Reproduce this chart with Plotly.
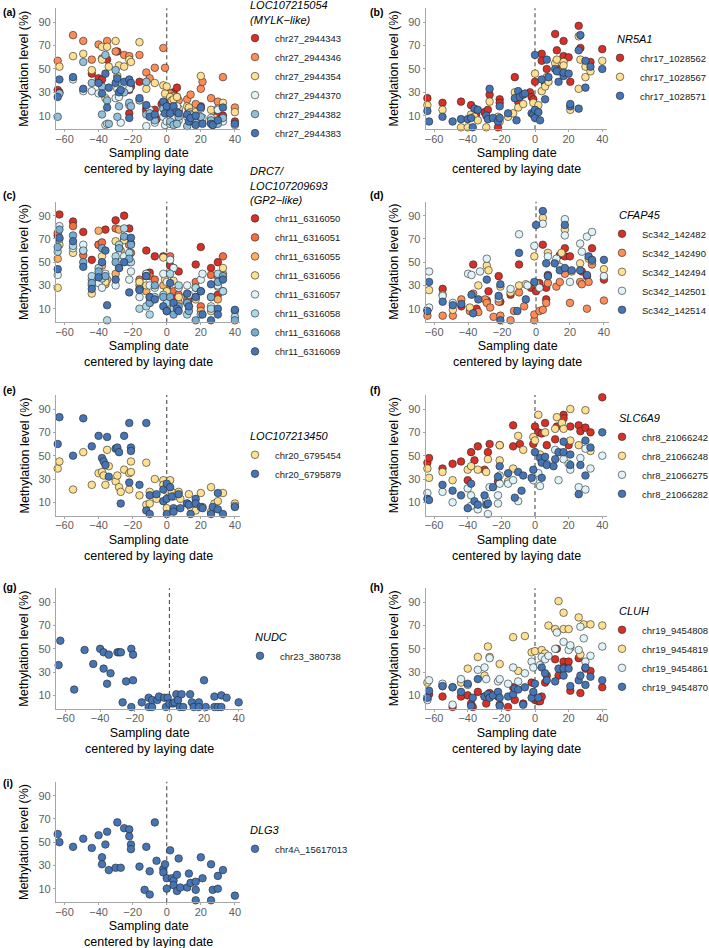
import plotly.graph_objects as go

# ---------------- data ----------------
# (a) LOC107215054 (MYLK-like)
A_NAMES = ["chr27_2944343", "chr27_2944346", "chr27_2944354", "chr27_2944370", "chr27_2944382", "chr27_2944383"]
A1_X = [-64, -63, -44, -40, -38, -35, -29, -28, -22, -22, -21, -16, -12, -12, -10, -7, -6, -3, 0, 2, 4, 6, 6, 7, 12, 13, 14, 17, 20, 26, 28, 30, 33, 40]
A1_Y = [32, 30, 46, 42, 41, 58, 65, 27, 32, 12, 35, 39, 16, 14, 10, 15, 7, 20, 18, 22, 30, 34, 26, 14, 10, 15, 5, 8, 18, 5, 3, 12, 10, 5]
A2_X = [-64, -55, -49, -44, -40, -38, -35, -30, -25, -22, -16, -12, -10, -7, -2, -1, 2, 4, 7, 12, 14, 17, 20, 21, 26, 30, 33, 40]
A2_Y = [57, 79, 74, 58, 71, 59, 74, 65, 62, 61, 62, 47, 42, 51, 68, 51, 29, 27, 23, 24, 28, 20, 33, 39, 25, 22, 43, 17]
A3_X = [-63, -55, -49, -44, -38, -38, -36, -35, -34, -30, -29, -28, -25, -22, -21, -16, -12, -7, -2, -1, 0, 2, 3, 4, 6, 7, 12, 13, 14, 17, 20, 26, 28, 30, 33, 40]
A3_Y = [52, 61, 63, 49, 69, 58, 25, 69, 52, 74, 44, 53, 52, 58, 56, 73, 33, 38, 36, 29, 35, 26, 23, 24, 26, 16, 18, 17, 13, 13, 44, 15, 8, 16, 21, 13]
A4_X = [-55, -49, -44, -40, -36, -35, -30, -29, -28, -27, -25, -22, -22, -12, -10, -7, -2, -1, 0, 2, 4, 6, 7, 12, 13, 14, 20, 21, 26, 30, 33, 40]
A4_Y = [41, 31, 31, 29, 2, 3, 25, 33, 26, 4, 35, 33, 19, 1, 15, 4, 9, 2, 5, 3, 9, 18, 6, 9, 12, 6, 16, 8, 8, 15, 5, 2]
A5_X = [-64, -63, -49, -44, -38, -38, -36, -35, -34, -30, -29, -28, -25, -22, -21, -16, -12, -12, -10, -7, -2, 0, 2, 4, 6, 7, 12, 14, 17, 20, 26, 27, 30, 33]
A5_Y = [9, 29, 56, 38, 35, 11, 62, 23, 3, 49, 9, 18, 30, 21, 18, 23, 39, 11, 12, 6, 16, 13, 5, 2, 3, 9, 1, 11, 4, 9, 6, 2, 3, 8]
A6_X = [-64, -63, -55, -49, -40, -38, -36, -35, -34, -30, -29, -28, -27, -25, -22, -22, -21, -16, -12, -10, -7, -2, -1, 0, 2, 4, 6, 7, 12, 13, 14, 17, 17, 20, 21, 26, 27, 30, 33, 40]
A6_Y = [26, 41, 43, 33, 38, 29, 46, 17, 34, 38, 42, 30, 32, 39, 41, 8, 38, 25, 19, 9, 11, 22, 12, 18, 12, 18, 13, 12, 11, 5, 8, 10, 2, 17, 3, 3, 2, 6, 17, 3]

# (b) NR5A1
B_NAMES = ["chr17_1028562", "chr17_1028567", "chr17_1028571"]
B1_X = [-64, -55, -44, -38, -35, -30, -28, -27, -22, -21, -21, -12, -10, -3, -2, -1, 0, 4, 4, 6, 7, 12, 13, 14, 17, 17, 20, 21, 26, 27, 33, 40]
B1_Y = [25, 21, 22, 19, 11, 13, 15, 28, 0, 24, 21, 43, 22, 30, 26, 24, 39, 63, 57, 37, 50, 80, 66, 50, 74, 61, 60, 39, 87, 68, 56, 67]
B2_X = [-64, -55, -44, -40, -38, -36, -34, -29, -27, -22, -21, -16, -13, -12, -10, -7, -1, 0, 2, 4, 6, 7, 8, 12, 13, 14, 17, 17, 21, 26, 26, 27, 30, 30, 33, 40]
B2_Y = [19, 15, 0, 0, 11, 9, 6, 0, 22, 9, 5, 9, 12, 30, 17, 20, 21, 46, 19, 31, 35, 43, 39, 55, 58, 48, 56, 53, 15, 78, 33, 58, 43, 52, 48, 57]
B3_X = [-64, -63, -55, -49, -44, -40, -38, -37, -36, -34, -29, -28, -27, -25, -22, -21, -21, -16, -12, -11, -10, -9, -7, -6, -2, -1, 0, 0, 0, 2, 3, 4, 6, 7, 8, 12, 13, 14, 17, 17, 20, 21, 21, 26, 26, 27, 30, 30, 33, 40]
B3_Y = [14, 5, 9, 5, 7, 7, 8, 0, 16, 15, 10, 7, 33, 8, 5, 8, 18, 12, 25, 6, 31, 26, 28, 29, 12, 11, 62, 15, 8, 13, 6, 41, 24, 58, 43, 50, 48, 39, 44, 47, 46, 18, 20, 66, 16, 79, 57, 34, 52, 50]

# (c) DRC7/LOC107209693 (GP2-like)
C_NAMES = ["chr11_6316050", "chr11_6316051", "chr11_6316055", "chr11_6316056", "chr11_6316057", "chr11_6316058", "chr11_6316068", "chr11_6316069"]
C1_X = [-63, -64, -55, -49, -44, -40, -36, -30, -25, -22, -21, -12, -7, -2, 0, 2, 4, 7, 13, 17, 20, 26, 30, 30, -10]
C1_Y = [91, 73, 85, 76, 52, 65, 78, 86, 90, 79, 66, 60, 55, 55, 28, 47, 20, 42, 18, 48, 63, 45, 50, 22, 41]
C2_X = [-64, -55, -49, -40, -38, -30, -28, -25, -22, -21, -16, -12, -10, -7, 0, 2, 4, 7, 12, 17, 20, 26, 30, 33]
C2_Y = [75, 81, 56, 65, 67, 79, 62, 70, 65, 58, 35, 40, 38, 35, 30, 55, 25, 22, 18, 33, 12, 39, 38, 55]
C3_X = [-64, -49, -44, -40, -38, -36, -35, -30, -28, -27, -22, -16, -12, -10, -2, 0, 2, 4, 7, 12, 17, 20, 26, 30, 33]
C3_Y = [53, 60, 35, 77, 47, 31, 35, 40, 78, 60, 65, 30, 25, 15, 30, 20, 12, 45, 15, 22, 20, 8, 20, 18, 40]
C4_X = [-64, -63, -55, -44, -38, -36, -30, -28, -25, -22, -16, -12, -10, -2, -1, 0, 4, 7, 12, 13, 17, 26, 30, 33]
C4_Y = [28, 65, 58, 23, 55, 33, 68, 45, 69, 50, 33, 30, 20, 54, 35, 25, 34, 20, 15, 12, 18, 8, 29, 45]
C5_X = [-64, -63, -55, -49, -44, -40, -38, -36, -30, -28, -25, -22, -21, -16, -12, -10, -7, -2, 0, 2, 4, 7, 12, 13, 17, 20, 21, 26, 30, 33, 40]
C5_Y = [39, 81, 62, 65, 30, 32, 28, 40, 30, 56, 55, 35, 42, 20, 40, 30, 28, 40, 33, 52, 45, 28, 30, 22, 28, 35, 40, 12, 30, 25, 8]
C6_X = [-64, -63, -55, -49, -44, -40, -38, -35, -30, -28, -25, -22, -21, -16, -12, -10, -7, -2, 0, 2, 4, 7, 12, 17, 20, 26, 30, 33, 40]
C6_Y = [59, 70, 64, 60, 38, 45, 36, 0, 55, 65, 79, 58, 50, 10, 12, 5, 20, 22, 15, 40, 10, 30, 5, 28, 5, 10, 40, 25, 3]
C7_X = [-64, -63, -55, -49, -44, -40, -38, -36, -30, -28, -25, -22, -21, -16, -12, -10, -7, -2, 0, 2, 4, 7, 12, 13, 17, 20, 26, 30, 33, 40]
C7_Y = [63, 78, 73, 50, 32, 42, 62, 38, 50, 62, 72, 53, 65, 27, 38, 15, 30, 20, 8, 20, 5, 12, 15, 8, 0, 25, 20, 33, 38, 0]
C8_X = [-64, -63, -55, -49, -44, -40, -38, -36, -35, -30, -28, -25, -22, -21, -16, -12, -10, -7, -2, 0, 2, 4, 6, 7, 12, 13, 17, 20, 21, 26, 26, 30, 30, 33, 40]
C8_Y = [44, 71, 68, 46, 27, 37, 50, 60, 13, 35, 45, 50, 24, 71, 26, 38, 20, 18, 12, 8, 32, 15, 10, 8, 23, 12, 20, 25, 5, 31, 0, 10, 5, 35, 9]

# (d) CFAP45
D_NAMES = ["Sc342_142482", "Sc342_142490", "Sc342_142494", "Sc342_142501", "Sc342_142514"]
D1_X = [-64, -55, -44, -37, -35, -29, -28, -22, -21, -15, -10, -3, 0, 2, 4, 6, 6, 7, 14, 17, 17, 20, 27, 30, 33, 40]
D1_Y = [9, 27, 12, 48, 10, 17, 25, 38, 16, 22, 48, 28, 25, 32, 65, 18, 28, 39, 56, 62, 55, 55, 42, 38, 62, 35]
D2_X = [-64, -55, -49, -44, -39, -37, -34, -30, -29, -27, -25, -22, -21, -15, -13, -10, -7, -1, -1, 0, 2, 4, 6, 7, 12, 14, 17, 20, 26, 27, 30, 31, 33, 40]
D2_Y = [4, 4, 4, 18, 8, 23, 7, 18, 15, 11, 3, 16, 4, 0, 8, 24, 12, 0, 5, 31, 8, 9, 15, 32, 29, 33, 40, 15, 33, 31, 10, 33, 48, 17]
D3_X = [-63, -55, -49, -39, -34, -29, -28, -21, -15, -10, -6, -1, 0, 4, 7, 12, 15, 17, 21, 26, 31, 33, 40]
D3_Y = [26, 22, 9, 11, 30, 47, 43, 29, 24, 30, 31, 55, 32, 88, 58, 50, 58, 78, 42, 49, 53, 51, 44]
D4_X = [-63, -63, -55, -49, -40, -38, -33, -29, -22, -15, -10, -5, -1, 2, 4, 7, 12, 14, 17, 17, 20, 26, 27, 30, 33, 40]
D4_Y = [42, 11, 21, 15, 40, 39, 42, 53, 19, 27, 74, 30, 64, 28, 83, 55, 53, 46, 87, 73, 33, 66, 59, 72, 76, 38]
D5_X = [-64, -63, -55, -49, -44, -38, -37, -34, -29, -22, -21, -21, -11, -10, -6, -1, 0, 4, 6, 7, 11, 14, 17, 17, 21, 26, 30, 31, 33, 40]
D5_Y = [8, 33, 16, 13, 14, 22, 6, 18, 35, 21, 0, 31, 8, 58, 18, 33, 82, 94, 49, 38, 49, 43, 82, 45, 43, 43, 39, 55, 52, 52]

# (e) LOC107213450
E_NAMES = ["chr20_6795454", "chr20_6795879"]
E1_X = [-64, -63, -55, -49, -44, -40, -38, -37, -36, -35, -34, -30, -29, -28, -27, -25, -22, -22, -21, -21, -16, -12, -12, -10, -10, -7, -6, -2, -2, 0, 0, 2, 3, 4, 7, 8, 12, 13, 14, 17, 17, 20, 21, 26, 26, 28, 30, 33, 40, 40]
E1_Y = [39, 45, 21, 53, 25, 35, 36, 33, 25, 55, 41, 28, 33, 23, 19, 38, 35, 21, 45, 36, 16, 8, 44, 19, 9, 30, 13, 29, 25, 5, 20, 29, 19, 15, 19, 13, 9, 17, 6, 8, 3, 18, 6, 23, 2, 9, 11, 18, 9, 7]
E2_X = [-64, -63, -55, -49, -44, -40, -38, -37, -36, -35, -34, -30, -29, -28, -27, -25, -22, -21, -21, -22, -16, -12, -12, -10, -10, -6, -2, -2, 0, 0, 0, 2, 3, 4, 4, 7, 8, 12, 13, 14, 17, 17, 20, 21, 26, 27, 30, 30, 33, 40]
E2_Y = [60, 83, 50, 82, 58, 67, 48, 45, 42, 66, 32, 56, 57, 53, 9, 67, 78, 57, 54, 27, 25, 3, 78, 16, 0, 17, 21, 11, 26, 13, 0, 23, 15, 5, 2, 17, 5, 9, 8, 0, 13, 9, 6, 5, 0, 6, 4, 18, 0, 6]

# (f) SLC6A9
F_NAMES = ["chr8_21066242", "chr8_21066248", "chr8_21066275", "chr8_21066282"]
F1_X = [-64, -63, -55, -49, -44, -40, -38, -36, -34, -30, -28, -27, -22, -21, -13, -13, -9, -1, 0, 2, 4, 6, 7, 12, 13, 17, 17, 20, 21, 26, 27, 30, 33, 40]
F1_Y = [44, 48, 39, 43, 45, 29, 53, 46, 58, 38, 53, 60, 28, 59, 76, 58, 60, 60, 75, 70, 69, 78, 59, 64, 75, 85, 82, 59, 75, 76, 71, 74, 70, 100]
F2_X = [-64, -63, -55, -49, -40, -38, -34, -29, -28, -21, -21, -16, -13, -10, -7, -1, 0, 2, 3, 6, 12, 13, 16, 17, 21, 21, 26, 30, 33]
F2_Y = [39, 31, 36, 29, 38, 41, 38, 36, 47, 59, 46, 28, 39, 67, 55, 66, 63, 85, 51, 70, 73, 83, 78, 73, 90, 63, 59, 89, 54]
F3_X = [-64, -55, -49, -40, -38, -38, -34, -29, -28, -27, -22, -22, -21, -21, -16, -13, -10, -1, 2, 3, 7, 12, 14, 17, 20, 21, 26, 27, 30, 30, 33, 40]
F3_Y = [18, 19, 10, 22, 16, 7, 4, 12, 0, 23, 16, 9, 26, 33, 26, 29, 11, 29, 35, 24, 43, 55, 29, 47, 43, 38, 23, 48, 21, 56, 39, 50]
F4_X = [-64, -63, -55, -49, -44, -40, -38, -36, -34, -30, -29, -28, -25, -22, -21, -16, -12, -10, -8, -7, -2, -1, 0, 3, 4, 4, 6, 7, 11, 12, 14, 17, 17, 21, 21, 26, 27, 30, 30, 33, 40]
F4_Y = [13, 12, 25, 20, 16, 5, 26, 11, 8, 16, 8, 9, 23, 32, 41, 35, 14, 36, 20, 33, 31, 38, 53, 48, 44, 31, 49, 42, 41, 47, 53, 62, 53, 51, 42, 17, 42, 33, 63, 57, 70]

# (g) NUDC
G_NAMES = ["chr23_380738"]
G1_X = [-64, -63, -55, -49, -44, -40, -38, -38, -36, -35, -34, -30, -29, -28, -27, -25, -22, -21, -21, -22, -16, -12, -12, -10, -10, -7, -6, -3, -2, -1, 0, 2, 3, 4, 5, 6, 7, 8, 12, 13, 14, 17, 17, 20, 21, 26, 26, 28, 30, 30, 33, 40]
G1_Y = [36, 57, 15, 49, 37, 50, 47, 33, 20, 45, 29, 47, 47, 47, 4, 22, 50, 45, 23, 0, 4, 8, 0, 6, 0, 6, 9, 8, 0, 8, 3, 3, 4, 11, 6, 0, 11, 0, 11, 4, 0, 4, 0, 23, 0, 9, 0, 0, 10, 0, 8, 4]

# (h) CLUH
H_NAMES = ["chr19_9454808", "chr19_9454819", "chr19_9454861", "chr19_9454870"]
H1_X = [-64, -63, -55, -49, -44, -40, -38, -37, -34, -30, -29, -27, -22, -21, -16, -13, -12, -7, -2, -1, 0, 2, 3, 4, 6, 7, 12, 13, 14, 17, 17, 20, 21, 26, 27, 30, 33, 40]
H1_Y = [7, 11, 9, 0, 9, 10, 3, 0, 13, 9, 3, 12, 9, 2, 0, 17, 6, 3, 21, 9, 6, 5, 5, 9, 21, 27, 41, 50, 27, 39, 34, 39, 14, 42, 12, 33, 31, 17]
H2_X = [-64, -55, -49, -44, -40, -34, -30, -28, -27, -21, -13, -10, -6, -2, 0, 4, 6, 8, 12, 14, 17, 17, 20, 21, 26, 27, 29, 33, 40]
H2_Y = [21, 18, 17, 21, 33, 43, 27, 52, 43, 37, 60, 31, 61, 47, 48, 49, 46, 70, 67, 91, 81, 67, 67, 51, 77, 45, 71, 71, 70]
H3_X = [-64, -63, -55, -49, -44, -40, -34, -30, -29, -27, -22, -21, -16, -13, -10, -6, -2, -1, 3, 4, 6, 8, 12, 13, 17, 20, 21, 26, 27, 29, 30, 33, 40]
H3_Y = [6, 23, 20, 2, 24, 19, 32, 34, 24, 42, 22, 24, 20, 34, 22, 29, 39, 34, 36, 43, 41, 44, 50, 64, 56, 49, 53, 49, 69, 59, 39, 44, 52]
H4_X = [-64, -63, -55, -49, -44, -40, -38, -37, -34, -30, -28, -27, -25, -22, -21, -21, -16, -13, -12, -10, -7, -6, -2, -1, 0, 2, 4, 6, 7, 12, 14, 17, 17, 20, 21, 26, 27, 30, 30, 33, 40]
H4_Y = [8, 14, 18, 17, 13, 20, 1, 8, 24, 9, 11, 8, 10, 13, 1, 8, 9, 11, 16, 15, 2, 17, 8, 13, 20, 8, 34, 29, 23, 22, 33, 33, 27, 33, 18, 23, 27, 34, 19, 26, 23]

# (i) DLG3
I_NAMES = ["chr4A_15617013"]
I1_X = [-64, -63, -55, -49, -44, -40, -38, -38, -36, -35, -34, -30, -29, -27, -25, -22, -22, -21, -21, -16, -13, -12, -10, -10, -7, -6, -2, -2, -1, 0, 0, 2, 3, 4, 4, 6, 6, 7, 8, 12, 13, 14, 17, 17, 17, 20, 21, 26, 26, 27, 30, 30, 33, 40]
I1_Y = [57, 50, 46, 53, 45, 56, 37, 31, 48, 59, 26, 28, 67, 28, 62, 61, 55, 48, 44, 29, 9, 46, 25, 5, 67, 34, 27, 24, 31, 19, 10, 43, 19, 17, 13, 22, 8, 36, 11, 11, 23, 15, 16, 9, 0, 37, 19, 31, 0, 9, 21, 10, 26, 4]

X_TICKS = [-60, -40, -20, 0, 20, 40]
Y_TICKS = [10, 30, 50, 70, 90]

# ---------------- style ----------------
RED, ORANGE_RED, ORANGE, ORANGE6 = "#D73027", "#F46D43", "#FDAE61", "#FC8D59"
YELLOW, PALE, LBLUE8, MBLUE, LBLUE6, BLUE = "#FEE090", "#E0F3F8", "#ABD9E9", "#74ADD1", "#91BFDB", "#4575B4"

W, H = 709, 948
FONT = "Liberation Sans, Arial, Helvetica, sans-serif"


def fx(p):
    return p / W


def fy(p):
    return 1 - p / H


# panel: label, gene title, series names, xs, ys, colors, plot rect px (x0,x1,ytop,ybot), x range,
# legend (left px, top px, item indentation px)
PANELS = [
    ("(a)", "LOC107215054<br>(MYLK−like)", A_NAMES, [A1_X, A2_X, A3_X, A4_X, A5_X, A6_X], [A1_Y, A2_Y, A3_Y, A4_Y, A5_Y, A6_Y],
     [RED, ORANGE6, YELLOW, PALE, LBLUE6, BLUE], (56, 240, 8.3, 129.3), (-65, 43), (248, -5, -13)),
    ("(b)", "NR5A1", B_NAMES, [B1_X, B2_X, B3_X], [B1_Y, B2_Y, B3_Y],
     [RED, YELLOW, BLUE], (425.7, 607.3, 8.3, 129.3), (-65, 43), (615, 29, -15)),
    ("(c)", "DRC7/<br>LOC107209693<br>(GP2−like)", C_NAMES, [C1_X, C2_X, C3_X, C4_X, C5_X, C6_X, C7_X, C8_X],
     [C1_Y, C2_Y, C3_Y, C4_Y, C5_Y, C6_Y, C7_Y, C8_Y],
     [RED, ORANGE_RED, ORANGE, YELLOW, PALE, LBLUE8, MBLUE, BLUE], (56, 240, 201.7, 322.3), (-65, 43), (248, 161, -13)),
    ("(d)", "CFAP45", D_NAMES, [D1_X, D2_X, D3_X, D4_X, D5_X], [D1_Y, D2_Y, D3_Y, D4_Y, D5_Y],
     [RED, ORANGE6, YELLOW, PALE, BLUE], (425.7, 609, 201.7, 322.3), (-65, 43), (617, 205, -15)),
    ("(e)", "LOC107213450", E_NAMES, [E1_X, E2_X], [E1_Y, E2_Y],
     [YELLOW, BLUE], (56, 240, 395, 516), (-65, 43), (248, 426, -13)),
    ("(f)", "SLC6A9", F_NAMES, [F1_X, F2_X, F3_X, F4_X], [F1_Y, F2_Y, F3_Y, F4_Y],
     [RED, YELLOW, PALE, BLUE], (425.7, 607.3, 395, 516), (-65, 43), (617, 408, -15)),
    ("(g)", "NUDC", G_NAMES, [G1_X], [G1_Y],
     [BLUE], (56, 243, 588.3, 709), (-65.5, 42.5), (253, 627, -13)),
    ("(h)", "CLUH", H_NAMES, [H1_X, H2_X, H3_X, H4_X], [H1_Y, H2_Y, H3_Y, H4_Y],
     [RED, YELLOW, PALE, BLUE], (425.7, 607.3, 588.3, 709), (-65, 43), (617, 601, -15)),
    ("(i)", "DLG3", I_NAMES, [I1_X], [I1_Y],
     [BLUE], (56, 240, 781.7, 902.3), (-65, 43), (248, 820, -13)),
]
LABEL_POS = [(1, 11.7), (368, 12), (1, 195), (368, 195), (1, 390), (368, 390), (1, 587), (368, 587), (1, 782.7)]
YRANGE = (-1.7, 102)

fig = go.Figure()
layout = dict(
    width=W, height=H, autosize=False,
    margin=dict(l=0, r=0, t=0, b=0, pad=0, autoexpand=False),
    paper_bgcolor="white", plot_bgcolor="white",
    font=dict(family=FONT, color="#000000"),
    showlegend=True,
)
annotations = []
shapes = []

for k, (lab, gene, names, xs_list, ys_list, colors, rect, xr, lpos) in enumerate(PANELS):
    n = k + 1
    sfx = "" if n == 1 else str(n)
    x0, x1, yt, yb = rect
    legname = "legend" + sfx
    for name, xs, ys, col in zip(names, xs_list, ys_list, colors):
        fig.add_trace(go.Scatter(
            x=xs, y=ys, mode="markers", name=name,
            marker=dict(size=7.6, color=col, line=dict(color="#262626", width=0.6)),
            xaxis="x" + sfx, yaxis="y" + sfx, legend=legname, cliponaxis=False,
        ))
    axis_common = dict(
        showgrid=False, zeroline=False, showline=True, linecolor="#A6A6A6", linewidth=1.1,
        ticks="outside", ticklen=2, tickwidth=1, tickcolor="#A6A6A6", automargin=False,
        tickfont=dict(size=11, color="#5E5E5E", family=FONT), fixedrange=True,
    )
    layout["xaxis" + sfx] = dict(axis_common, domain=[fx(x0), fx(x1)], anchor="y" + sfx, ticklabelstandoff=-3,
                                 range=list(xr), tickvals=X_TICKS, ticktext=[str(v).replace("-", "−") for v in X_TICKS])
    layout["yaxis" + sfx] = dict(axis_common, domain=[fy(yb), fy(yt)], anchor="x" + sfx,
                                 range=list(YRANGE), tickvals=Y_TICKS)
    layout[legname] = dict(
        x=fx(lpos[0]), y=fy(lpos[1]), xanchor="left", yanchor="top", indentation=lpos[2],
        bgcolor="rgba(0,0,0,0)", borderwidth=0, tracegroupgap=0, itemwidth=30,
        font=dict(size=9.5, color="#1A1A1A", family=FONT),
        title=dict(text="<i>" + gene + "</i>", font=dict(size=11, color="#000000", family=FONT)),
    )
    shapes.append(dict(type="line", xref="x" + sfx, yref="y" + sfx + " domain", x0=0, x1=0, y0=0, y1=1,
                       line=dict(color="#4D4D4D", width=1.1, dash="4px,3px"), layer="below"))
    cx = (x0 + x1) / 2
    cy = (yt + yb) / 2
    annotations.append(dict(text="Sampling date<br>centered by laying date", x=fx(cx), y=fy(yb + 31.5),
                            xref="paper", yref="paper", showarrow=False, xanchor="center", yanchor="middle",
                            align="center", font=dict(size=12.5, color="#000000")))
    annotations.append(dict(text="Methylation level (%)", x=fx(x0 - 32), y=fy(cy), xref="paper", yref="paper",
                            showarrow=False, xanchor="center", yanchor="middle", textangle=-90,
                            font=dict(size=12.5, color="#000000")))
    lx, ly = LABEL_POS[k]
    annotations.append(dict(text="<b>" + lab + "</b>", x=fx(lx), y=fy(ly), xref="paper", yref="paper",
                            showarrow=False, xanchor="left", yanchor="middle", font=dict(size=10.5, color="#000000")))

layout["annotations"] = annotations
layout["shapes"] = shapes
fig.update_layout(**layout)
fig.write_html("out.html", include_plotlyjs=True, config={"displayModeBar": False},
               post_script="document.body.style.margin='0px';document.body.style.padding='0px';")
